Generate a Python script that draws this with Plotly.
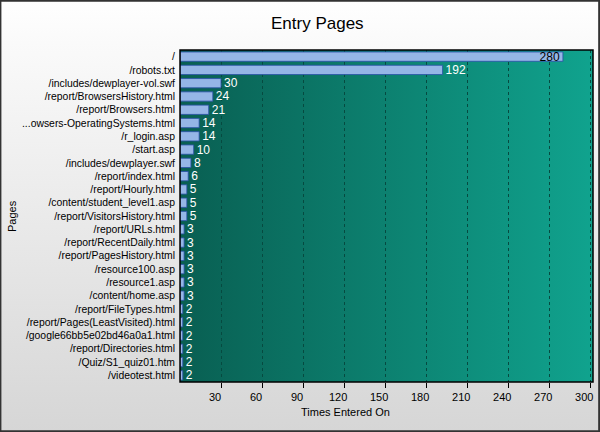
import plotly.graph_objects as go

# Dados
pages = [
    "/", "/robots.txt", "/includes/dewplayer-vol.swf", "/report/BrowsersHistory.html",
    "/report/Browsers.html", "...owsers-OperatingSystems.html", "/r_login.asp", "/start.asp",
    "/includes/dewplayer.swf", "/report/index.html", "/report/Hourly.html",
    "/content/student_level1.asp", "/report/VisitorsHistory.html", "/report/URLs.html",
    "/report/RecentDaily.html", "/report/PagesHistory.html", "/resource100.asp",
    "/resource1.asp", "/content/home.asp", "/report/FileTypes.html",
    "/report/Pages(LeastVisited).html", "/google66bb5e02bd46a0a1.html",
    "/report/Directories.html", "/Quiz/S1_quiz01.htm", "/videotest.html",
]
entries = [280, 192, 30, 24, 21, 14, 14, 10, 8, 6, 5, 5, 5, 3, 3, 3, 3, 3, 3, 2, 2, 2, 2, 2, 2]
x_ticks = [30, 60, 90, 120, 150, 180, 210, 240, 270, 300]

W, H = 600, 432
ML, MR, MT, MB = 180, 7, 50, 50
pw, ph = W - ML - MR, H - MT - MB

# posicao do texto: o maior fica dentro da barra, em preto
text_pos = ["inside" if v == max(entries) else "outside" for v in entries]
text_col = ["black" if v == max(entries) else "white" for v in entries]

fig = go.Figure(go.Bar(
    x=entries, y=pages, orientation="h",
    marker=dict(color="#95b6e6", line=dict(color="#2a4fa8", width=0.8)),
    text=entries, textposition=text_pos, insidetextanchor="end",
    textfont=dict(color=text_col, size=12, family="Liberation Sans"),
    cliponaxis=False,
))

# fundos em degradê via SVG
grad_plot = ("data:image/svg+xml;utf8,<svg xmlns='http://www.w3.org/2000/svg' width='100' height='100' "
             "preserveAspectRatio='none'><defs><linearGradient id='g' x1='0' x2='1' y1='0' y2='0'>"
             "<stop offset='0' stop-color='%23095f52'/><stop offset='1' stop-color='%2310a38e'/>"
             "</linearGradient></defs><rect width='100' height='100' fill='url(%23g)'/></svg>")
grad_paper = ("data:image/svg+xml;utf8,<svg xmlns='http://www.w3.org/2000/svg' width='100' height='100' "
              "preserveAspectRatio='none'><defs><linearGradient id='p' x1='0' x2='0' y1='0' y2='1'>"
              "<stop offset='0' stop-color='%23ffffff'/><stop offset='0.1' stop-color='%23fafafa'/>"
              "<stop offset='1' stop-color='%23d6d6d6'/>"
              "</linearGradient></defs><rect width='100' height='100' fill='url(%23p)'/></svg>")

fig.update_layout(
    width=W, height=H,
    margin=dict(l=ML, r=MR, t=MT, b=MB),
    paper_bgcolor="#e8e8e8", plot_bgcolor="rgba(0,0,0,0)",
    font=dict(family="Liberation Sans", size=11, color="black"),
    showlegend=False, bargap=0.3,
    uniformtext=dict(minsize=12, mode="show"),
    images=[
        dict(source=grad_paper, xref="paper", yref="paper",
             x=-ML / pw, y=1 + MT / ph, sizex=W / pw, sizey=H / ph,
             sizing="stretch", layer="below", xanchor="left", yanchor="top"),
        dict(source=grad_plot, xref="x domain", yref="y domain",
             x=0, y=1, sizex=1, sizey=1, sizing="stretch", layer="below",
             xanchor="left", yanchor="top"),
    ],
    shapes=[
        dict(type="rect", xref="paper", yref="paper", x0=-ML / pw + 0.001, x1=1 + MR / pw - 0.002,
             y0=-MB / ph + 0.002, y1=1 + MT / ph - 0.002, line=dict(color="#333333", width=2)),
        dict(type="rect", xref="paper", yref="paper", x0=0, x1=1, y0=0, y1=1,
             line=dict(color="black", width=1.5)),
    ],
    annotations=[
        dict(text="Entry Pages", xref="paper", yref="paper", x=(317 - ML) / pw, y=1 + (MT - 24) / ph,
             xanchor="center", yanchor="middle",
             showarrow=False, font=dict(size=17, family="Liberation Sans")),
        dict(text="Pages", xref="paper", yref="paper", x=(12 - ML) / pw, y=0.5,
             xanchor="center", yanchor="middle",
             textangle=-90, showarrow=False, font=dict(size=11)),
        dict(text="Times Entered On", xref="paper", yref="paper", x=(345 - ML) / pw,
             y=-(412 - (H - MB)) / ph, xanchor="center", yanchor="middle",
             showarrow=False, font=dict(size=11)),
    ],
)

fig.update_xaxes(
    range=[0, 302], tickvals=x_ticks, ticks="outside", ticklen=5, tickcolor="black",
    ticklabelshift=-6, showline=False, zeroline=False,
    showgrid=True, gridcolor="#064a40", griddash="dot", gridwidth=1,
)
fig.update_yaxes(
    autorange="reversed", showgrid=False, ticks="", ticklabelstandoff=4,
    showline=False, zeroline=False, tickfont=dict(size=10.4),
)

fig.write_html("out.html", config={"displayModeBar": False},
               post_script="document.body.style.margin='0';")
